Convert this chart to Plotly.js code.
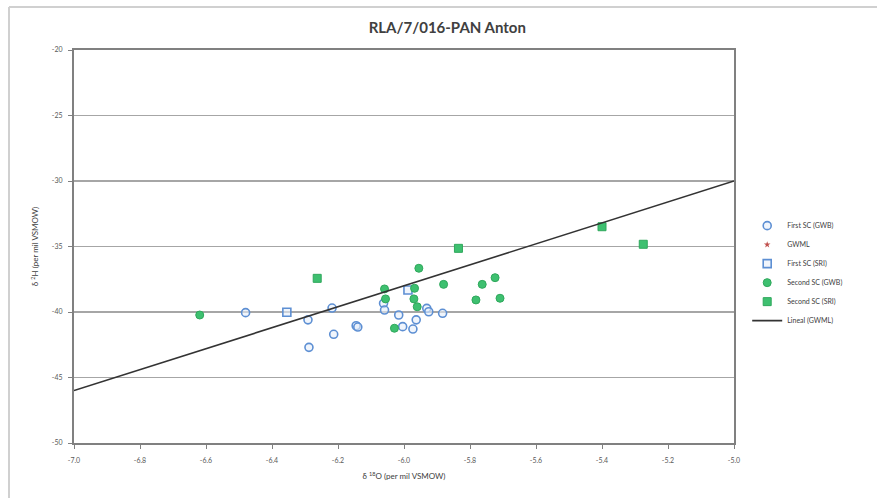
<!DOCTYPE html>
<html>
<head>
<meta charset="utf-8">
<script src="https://cdn.plot.ly/plotly-3.0.1.min.js"></script>
<style>
html,body{margin:0;padding:0;background:#fff;}
#chart{width:877px;height:498px;}
</style>
</head>
<body>
<div id="chart"></div>
<script>
// First SC (GWB)
const firstGwbX = [-6.48, -6.291, -6.288, -6.218, -6.213, -6.145, -6.14, -6.062, -6.059, -6.016, -6.004, -5.963, -5.973, -5.931, -5.925, -5.883];
const firstGwbY = [-40.05, -40.6, -42.7, -39.7, -41.7, -41.05, -41.15, -39.34, -39.85, -40.23, -41.12, -40.6, -41.3, -39.72, -39.98, -40.1];
// First SC (SRI)
const firstSriX = [-6.355, -5.988];
const firstSriY = [-40.02, -38.32];
// Second SC (GWB)
const secondGwbX = [-6.619, -6.059, -6.056, -5.968, -5.970, -5.960, -5.955, -5.880, -6.029, -5.763, -5.724, -5.782, -5.709];
const secondGwbY = [-40.23, -38.24, -39.0, -38.19, -39.0, -39.6, -36.66, -37.89, -41.24, -37.89, -37.38, -39.08, -38.95];
// Second SC (SRI)
const secondSriX = [-6.263, -5.835, -5.400, -5.275];
const secondSriY = [-37.43, -35.14, -33.49, -34.83];
// Lineal (GWML): endpoints of trend line
const gwmlLineX = [-7.0, -5.0];
const gwmlLineY = [-46.0, -30.0];
// Tick values and labels
const xTicks = [-7.0, -6.8, -6.6, -6.4, -6.2, -6.0, -5.8, -5.6, -5.4, -5.2, -5.0];
const xTickLabels = ['-7.0', '-6.8', '-6.6', '-6.4', '-6.2', '-6.0', '-5.8', '-5.6', '-5.4', '-5.2', '-5.0'];
const yTicks = [-20, -25, -30, -35, -40, -45, -50];
const yTickLabels = ['-20', '-25', '-30', '-35', '-40', '-45', '-50'];

const blue = '#5d8fd3';
const greenFill = '#3ec070';
const greenLine = '#2fa85c';

const traces = [
  {name:'First SC (GWB)', x:firstGwbX, y:firstGwbY, type:'scatter', mode:'markers',
   marker:{symbol:'circle', size:8, color:'rgba(230,238,250,0.6)', line:{color:blue, width:1.6}}},
  {name:'GWML', x:[null], y:[null], type:'scatter', mode:'markers',
   marker:{symbol:'star', size:5, color:'#c0504d'}},
  {name:'First SC (SRI)', x:firstSriX, y:firstSriY, type:'scatter', mode:'markers',
   marker:{symbol:'square', size:8, color:'rgba(230,238,250,0.6)', line:{color:blue, width:1.6}}},
  {name:'Second SC (GWB)', x:secondGwbX, y:secondGwbY, type:'scatter', mode:'markers',
   marker:{symbol:'circle', size:8, color:greenFill, line:{color:greenLine, width:1}}},
  {name:'Second SC (SRI)', x:secondSriX, y:secondSriY, type:'scatter', mode:'markers',
   marker:{symbol:'square', size:8, color:greenFill, line:{color:greenLine, width:1}}},
  {name:'Lineal (GWML)', x:gwmlLineX, y:gwmlLineY, type:'scatter', mode:'lines',
   line:{color:'#333333', width:1.6}}
];

const tickFont = {family:'Lato, "Liberation Sans", sans-serif', size:7, color:'#595959'};

const layout = {
  width:877, height:498,
  margin:{l:74, r:143, t:50, b:55},
  paper_bgcolor:'#ffffff', plot_bgcolor:'#ffffff',
  font:{family:'Lato, "Liberation Sans", sans-serif', color:'#404040'},
  title:{text:'<b>RLA/7/016-PAN Anton</b>', x:0.51, xref:'container', xanchor:'center',
         y:0.945, yref:'container', yanchor:'middle',
         font:{family:'Lato, "Liberation Sans", sans-serif', size:15, color:'#404040'}},
  xaxis:{range:[-7,-5], tickvals:xTicks, ticktext:xTickLabels, ticks:'outside', ticklen:4,
         ticklabelstandoff:6,
         tickcolor:'#808080', showgrid:false, zeroline:false, showline:true, mirror:true,
         linecolor:'#808080', linewidth:2, tickfont:tickFont,
         title:{text:'δ <sup>18</sup>O (per mil VSMOW)', standoff:10,
                font:{family:'Lato, "Liberation Sans", sans-serif', size:8, color:'#404040'}}},
  yaxis:{range:[-50,-20], tickvals:yTicks, ticktext:yTickLabels, ticks:'outside', ticklen:4,
         ticklabelstandoff:4,
         tickcolor:'#808080', showgrid:true, gridcolor:'#a6a6a6', gridwidth:1.3, zeroline:false,
         showline:true, mirror:true, linecolor:'#808080', linewidth:2, tickfont:tickFont,
         title:{text:'δ <sup>2</sup>H (per mil VSMOW)', standoff:12,
                font:{family:'Lato, "Liberation Sans", sans-serif', size:8, color:'#404040'}}},
  legend:{x:1.02, y:0.59, xanchor:'left', yanchor:'top', bgcolor:'rgba(0,0,0,0)',
          font:{family:'Lato, "Liberation Sans", sans-serif', size:7, color:'#404040'},
          tracegroupgap:0, itemsizing:'trace'},
  showlegend:true,
  shapes:[
    {type:'line', xref:'paper', yref:'paper', x0:-0.0985, x1:1.22, y0:1.1094, y1:1.1094,
     line:{color:'#d0d0d0', width:2}},
    {type:'line', xref:'paper', yref:'paper', x0:-0.0985, x1:-0.0985, y0:1.1094, y1:-0.15,
     line:{color:'#d0d0d0', width:2}}
  ]
};

Plotly.newPlot('chart', traces, layout, {displayModeBar:false, staticPlot:true});
</script>
</body>
</html>
